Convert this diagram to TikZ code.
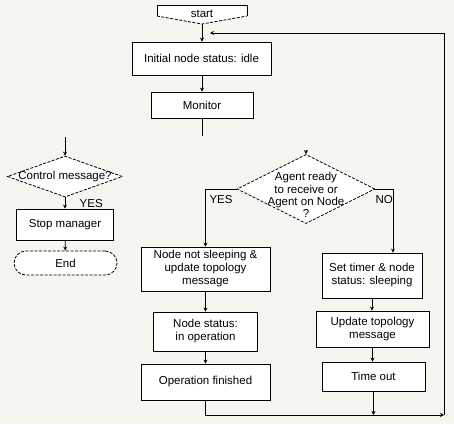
\documentclass[tikz,border=0pt]{standalone}
\usepackage{fontspec}
\setmainfont{Liberation Sans}
\usetikzlibrary{shapes.geometric, arrows.meta, positioning, calc}
\definecolor{pagebg}{RGB}{246,245,240}
\tikzset{
  block/.style={
    rectangle, draw, fill=white,
    align=center, inner sep=0pt,
    line width=0.8pt
  },
  decision/.style={
    diamond, draw, fill=white,
    inner sep=0pt, line width=0.8pt,
    dash pattern=on 3pt off 1.5pt
  },
  terminal/.style={
    rectangle, draw, fill=white,
    rounded corners=12pt, inner sep=0pt,
    line width=0.8pt, dash pattern=on 3pt off 1.5pt
  },
  line/.style={draw, -{Stealth[length=4pt,width=4pt]}, line width=0.8pt},
  plain line/.style={draw, line width=0.8pt},
}

\begin{document}
\begin{tikzpicture}[x=1pt, y=-1pt, font=\fontsize{11.5}{13}\selectfont]
  \fill[pagebg] (0,0) rectangle (454,424);
  \useasboundingbox (0,0) rectangle (454,424);

  % Start connector
  \fill[white] (157,5) -- (247,5) -- (247,16) -- (202,24) -- (157,16) -- cycle;
  \draw[plain line] (157,16) -- (157,5) -- (247,5) -- (247,16);
  \draw[plain line, dash pattern=on 3pt off 1.5pt] (157,16) -- (202,24) -- (247,16);
  \node (start) at (202,14) {start};
  \coordinate (startv) at (202,24);

  % Main column
  \node[block, minimum width=139pt, minimum height=33pt]
    (init) at (201.5,58.5) {Initial node status: idle};
  \node[block, minimum width=102pt, minimum height=26pt]
    (monitor) at (202,105) {Monitor};
  \coordinate (monend) at (202,136);

  % Control branch
  \coordinate (ctrlin) at (65,137);
  \node[decision, minimum width=115pt, minimum height=41pt,
    label={center:Control message?}] (ctrl) at (65,176.5) {};
  \node[block, minimum width=97pt, minimum height=31pt]
    (stop) at (65,224.5) {Stop manager};
  \node[terminal, minimum width=103pt, minimum height=24pt]
    (end) at (65.5,263) {End};

  % Agent decision
  \coordinate (agentin) at (306,150);
  \node[decision, minimum width=138pt, minimum height=69pt,
    label={[align=center, yshift=-6pt, font=\fontsize{11.5}{12.3}\selectfont]
      center:Agent ready\\to receive or\\Agent on Node\\?}]
    (agent) at (306,189) {};

  \node[block, minimum width=129pt, minimum height=44pt]
    (busy) at (205.5,269) {Node not sleeping \&\\update topology\\message};
  \node[block, minimum width=104pt, minimum height=39pt]
    (oper) at (205.5,331.5) {Node status:\\in operation};
  \node[block, minimum width=129pt, minimum height=36pt]
    (done) at (205.5,382) {Operation finished};

  \node[block, minimum width=100pt, minimum height=45pt]
    (sleep) at (372,275.5) {Set timer \& node\\status: sleeping};
  \node[block, minimum width=113pt, minimum height=36pt]
    (upd) at (372.5,329) {Update topology\\message};
  \node[block, minimum width=103pt, minimum height=29pt]
    (timeout) at (373.5,376.5) {Time out};

  \coordinate (loopbr) at (444,415);
  \coordinate (looptop) at (210,33);

  % Arrows
  \draw[line] (startv) -- (startv |- init.north);
  \draw[line] (init.south -| monitor) -- (monitor);
  \draw[plain line] (monitor) -- (monend);
  \draw[line] (ctrlin) -- (ctrl);
  \draw[line] (ctrl) -- node[right=11pt, yshift=-1pt] (yesctrl) {YES} (stop);
  \draw[line] (stop) -- (end);
  \draw[line] (agentin) -- (agent);
  \draw[line] (agent.west) -| node[pos=0.25, below, yshift=-3pt] (yesagent) {YES} (busy.north);
  \draw[line] (agent.east) -| node[pos=0.25, below, yshift=-3pt] (noagent) {NO} ([xshift=21pt]sleep.north);
  \draw[line] (busy) -- (oper);
  \draw[line] (oper) -- (done);
  \draw[line] (sleep) -- (sleep |- upd.north);
  \draw[line] (upd) -- (upd |- timeout.north);
  \draw[line] (done.south) |- (loopbr);
  \draw[line] (timeout.south) -- (timeout.south |- loopbr);
  \draw[line] (loopbr) |- (looptop);
\end{tikzpicture}
\end{document}
